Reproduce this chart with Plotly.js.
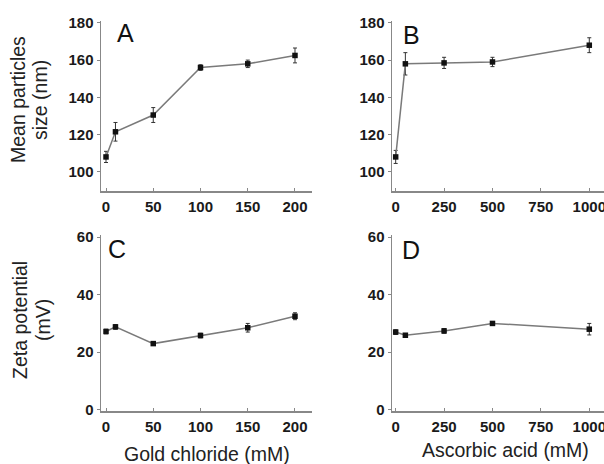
<!DOCTYPE html>
<html><head><meta charset="utf-8">
<script src="https://cdn.plot.ly/plotly-3.0.1.min.js"></script>
<style>html,body{margin:0;padding:0;background:#fff}#chart{width:604px;height:464px}</style>
</head><body><div id="chart"></div>
<script>
// Data
const goldX = [0, 10, 50, 100, 150, 200];
const goldSize = [108, 121.5, 130.5, 156, 158, 162.5];
const goldSizeErr = [3, 5, 4, 1.5, 2, 4];
const goldZeta = [27.2, 28.8, 23.0, 25.8, 28.5, 32.5];
const goldZetaErr = [0.8, 0.8, 0.6, 0.8, 1.5, 1.2];

const ascX = [0, 50, 250, 500, 1000];
const ascSize = [108, 158, 158.5, 159, 168];
const ascSizeErr = [3.5, 6, 3, 2.5, 4];
const ascZeta = [27.0, 25.9, 27.4, 30.0, 28.0];
const ascZetaErr = [0.8, 0.6, 0.8, 0.6, 2];

const goldTicks = [0, 50, 100, 150, 200];
const ascTicks = [0, 250, 500, 750, 1000];
const sizeTicks = [100, 120, 140, 160, 180];
const zetaTicks = [0, 20, 40, 60];
const panelLetters = ['A', 'B', 'C', 'D'];

const W = 604, H = 464;
const px = (a, b) => [a / W, b / W];
const py = (top, bottom) => [1 - bottom / H, 1 - top / H];

function trace(x, y, err, xa, ya) {
  return {
    x: x, y: y, xaxis: xa, yaxis: ya, type: 'scatter', mode: 'lines+markers',
    line: {color: '#7a7a7a', width: 1.5},
    marker: {symbol: 'square', size: 5.5, color: '#111'},
    error_y: {type: 'data', array: err, visible: true, color: '#333', thickness: 1, width: 2},
    showlegend: false, hoverinfo: 'skip', cliponaxis: false
  };
}

const data = [
  trace(goldX, goldSize, goldSizeErr, 'x', 'y'),
  trace(ascX, ascSize, ascSizeErr, 'x2', 'y2'),
  trace(goldX, goldZeta, goldZetaErr, 'x3', 'y3'),
  trace(ascX, ascZeta, ascZetaErr, 'x4', 'y4')
];

const tickFont = {family: 'Liberation Sans, Arial, sans-serif', size: 15, weight: 'bold', color: '#1a1a1a'};
function xax(dom, range, ticks, anchor) {
  return {domain: dom, range: range, anchor: anchor, tickvals: ticks, ticktext: ticks.map(String),
    showline: true, linecolor: '#888', linewidth: 1.5, ticks: 'inside', ticklen: 3, tickcolor: '#888',
    showgrid: false, zeroline: false, tickfont: tickFont, ticklabelstandoff: 1, ticklabeloverflow: 'allow'};
}
function yax(dom, range, ticks, anchor) {
  return {domain: dom, range: range, anchor: anchor, tickvals: ticks, ticktext: ticks.map(String),
    showline: true, linecolor: '#888', linewidth: 1.5, ticks: 'outside', ticklen: 3, tickcolor: '#888',
    showgrid: false, zeroline: false, tickfont: tickFont, ticklabelstandoff: 0, ticklabeloverflow: 'allow'};
}

const xL = px(101, 312), xR = px(392, 604);
const yT = py(21, 191), yB = py(235, 411);

const titleFont = {family: 'Liberation Sans, Arial, sans-serif', size: 19.5, color: '#222'};
const letterFont = {family: 'Liberation Sans, Arial, sans-serif', size: 25, color: '#111'};

function ann(text, x, y, font, angle) {
  return {text: text, x: x / W, y: 1 - y / H, xref: 'paper', yref: 'paper', showarrow: false,
    xanchor: 'center', yanchor: 'middle', font: font, textangle: angle || 0};
}

const layout = {
  width: W, height: H, margin: {l: 0, r: 0, t: 0, b: 0},
  paper_bgcolor: '#fff', plot_bgcolor: '#fff',
  xaxis: xax(xL, [-5.3, 218], goldTicks, 'y'),
  yaxis: yax(yT, [89.7, 181], sizeTicks, 'x'),
  xaxis2: xax(xR, [-19, 1076], ascTicks, 'y2'),
  yaxis2: yax(yT, [89.7, 181], sizeTicks, 'x2'),
  xaxis3: xax(xL, [-5.3, 218], goldTicks, 'y3'),
  yaxis3: yax(yB, [-0.4, 60.7], zetaTicks, 'x3'),
  xaxis4: xax(xR, [-19, 1076], ascTicks, 'y4'),
  yaxis4: yax(yB, [-0.4, 60.7], zetaTicks, 'x4'),
  annotations: [
    ann(panelLetters[0], 125, 33, letterFont),
    ann(panelLetters[1], 411, 35, letterFont),
    ann(panelLetters[2], 117, 249, letterFont),
    ann(panelLetters[3], 411, 250, letterFont),
    ann('Mean particles', 18, 100, titleFont, -90),
    ann('size (nm)', 40, 100, titleFont, -90),
    ann('Zeta potential', 20, 320, titleFont, -90),
    ann('(mV)', 43, 320, titleFont, -90),
    ann('Gold chloride (mM)', 207, 454, titleFont),
    ann('Ascorbic acid (mM)', 505, 450, titleFont)
  ]
};

Plotly.newPlot('chart', data, layout, {displayModeBar: false, staticPlot: true});
</script></body></html>
